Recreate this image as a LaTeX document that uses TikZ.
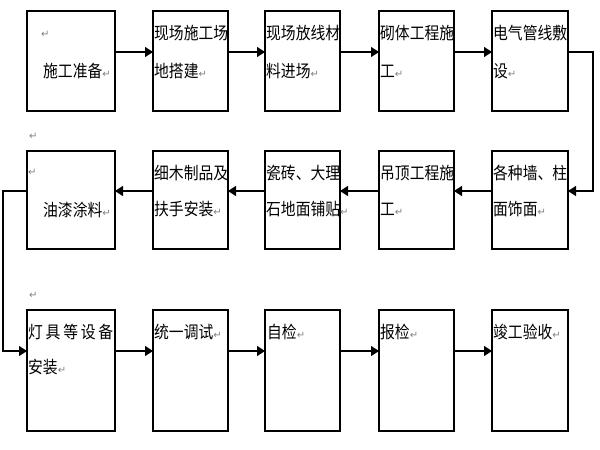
\documentclass[tikz,border=0pt]{standalone}
\usepackage{fontspec}
\newfontfamily\cjk[FakeStretch=0.87]{Noto Sans CJK SC}
\newfontfamily\djv{DejaVu Sans}
\usetikzlibrary{arrows.meta}
\definecolor{markgray}{HTML}{808080}
\newcommand\pmk{{\djv\fontsize{10}{10}\selectfont\textcolor{markgray}{↵}}}
\tikzset{
  box/.style={draw, line width=1.4pt, anchor=north west, inner sep=0pt, outer sep=0pt},
  txt/.style={anchor=west, inner sep=0pt, font=\cjk\fontsize{17}{17}\selectfont, text height=15pt, text depth=2pt},
  mk/.style={anchor=west, inner sep=0pt},
  arr/.style={line width=1.4pt, -{Triangle[length=8pt,width=10pt]}}
}
\begin{document}
\begin{tikzpicture}[x=1pt,y=-1pt]
\useasboundingbox (0,0) rectangle (600,450);
% row 1
\node[box, minimum width=88pt, minimum height=100pt] (a1) at (27,11) {};
\node[box, minimum width=75pt, minimum height=100pt] (a2) at (153,11) {};
\node[box, minimum width=75pt, minimum height=100pt] (a3) at (265,11) {};
\node[box, minimum width=75pt, minimum height=100pt] (a4) at (379,11) {};
\node[box, minimum width=76pt, minimum height=100pt] (a5) at (492,11) {};
% row 2
\node[box, minimum width=88pt, minimum height=98pt] (b1) at (27,151) {};
\node[box, minimum width=75pt, minimum height=98pt] (b2) at (153,151) {};
\node[box, minimum width=75pt, minimum height=98pt] (b3) at (265,151) {};
\node[box, minimum width=75pt, minimum height=98pt] (b4) at (379,151) {};
\node[box, minimum width=76pt, minimum height=98pt] (b5) at (492,151) {};
% row 3
\node[box, minimum width=88pt, minimum height=121pt] (c1) at (27,310) {};
\node[box, minimum width=75pt, minimum height=121pt] (c2) at (153,310) {};
\node[box, minimum width=75pt, minimum height=121pt] (c3) at (265,310) {};
\node[box, minimum width=75pt, minimum height=121pt] (c4) at (379,310) {};
\node[box, minimum width=76pt, minimum height=121pt] (c5) at (492,310) {};

% texts row 1
\node[mk] (a1m) at (41,34) {\pmk};
\node[txt] (a1t) at (43,71) {施工准备\pmk};
\node[txt] (a2t1) at (154,33) {现场施工场};
\node[txt] (a2t2) at (154,71) {地搭建\pmk};
\node[txt] (a3t1) at (266,33) {现场放线材};
\node[txt] (a3t2) at (266,71) {料进场\pmk};
\node[txt] (a4t1) at (380,33) {砌体工程施};
\node[txt] (a4t2) at (380,71) {工\pmk};
\node[txt] (a5t1) at (493,33) {电气管线敷};
\node[txt] (a5t2) at (493,71) {设\pmk};
% texts row 2
\node[mk] (b0m) at (29,136) {\pmk};
\node[mk] (b1m) at (28,172) {\pmk};
\node[txt] (b1t) at (43,210) {油漆涂料\pmk};
\node[txt] (b2t1) at (154,173) {细木制品及};
\node[txt] (b2t2) at (154,209) {扶手安装\pmk};
\node[txt] (b3t1) at (266,173) {瓷砖、大理};
\node[txt] (b3t2) at (266,209) {石地面铺贴\pmk};
\node[txt] (b4t1) at (380,173) {吊顶工程施};
\node[txt] (b4t2) at (380,209) {工\pmk};
\node[txt] (b5t1) at (493,173) {各种墙、柱};
\node[txt] (b5t2) at (493,209) {面饰面\pmk};
% texts row 3
\node[mk] (c0m) at (29,295) {\pmk};
\node[txt] (c1t1) at (28,332) {\hbox to 85pt{灯\hfil 具\hfil 等\hfil 设\hfil 备}};
\node[txt] (c1t2) at (28,367) {安装\pmk};
\node[txt] (c2t) at (154,332) {统一调试\pmk};
\node[txt] (c3t) at (267,332) {自检\pmk};
\node[txt] (c4t) at (380,332) {报检\pmk};
\node[txt] (c5t) at (493,332) {竣工验收\pmk};

% connectors row 1
\draw[arr] ([yshift=9pt]a1.east) -- ([yshift=9pt]a2.west);
\draw[arr] ([yshift=9pt]a2.east) -- ([yshift=9pt]a3.west);
\draw[arr] ([yshift=9pt]a3.east) -- ([yshift=9pt]a4.west);
\draw[arr] ([yshift=9pt]a4.east) -- ([yshift=9pt]a5.west);
\draw[arr] ([yshift=9pt]a5.east) -- ++(25,0) |- ([yshift=9pt]b5.east);
% row 2
\draw[arr] ([yshift=9pt]b5.west) -- ([yshift=9pt]b4.east);
\draw[arr] ([yshift=9pt]b4.west) -- ([yshift=9pt]b3.east);
\draw[arr] ([yshift=9pt]b3.west) -- ([yshift=9pt]b2.east);
\draw[arr] ([yshift=9pt]b2.west) -- ([yshift=9pt]b1.east);
\draw[arr] ([yshift=9pt]b1.west) -- ++(-24,0) |- ([yshift=19.5pt]c1.west);
% row 3
\draw[arr] ([yshift=19.5pt]c1.east) -- ([yshift=19.5pt]c2.west);
\draw[arr] ([yshift=19.5pt]c2.east) -- ([yshift=19.5pt]c3.west);
\draw[arr] ([yshift=19.5pt]c3.east) -- ([yshift=19.5pt]c4.west);
\draw[arr] ([yshift=19.5pt]c4.east) -- ([yshift=19.5pt]c5.west);
\end{tikzpicture}
\end{document}
